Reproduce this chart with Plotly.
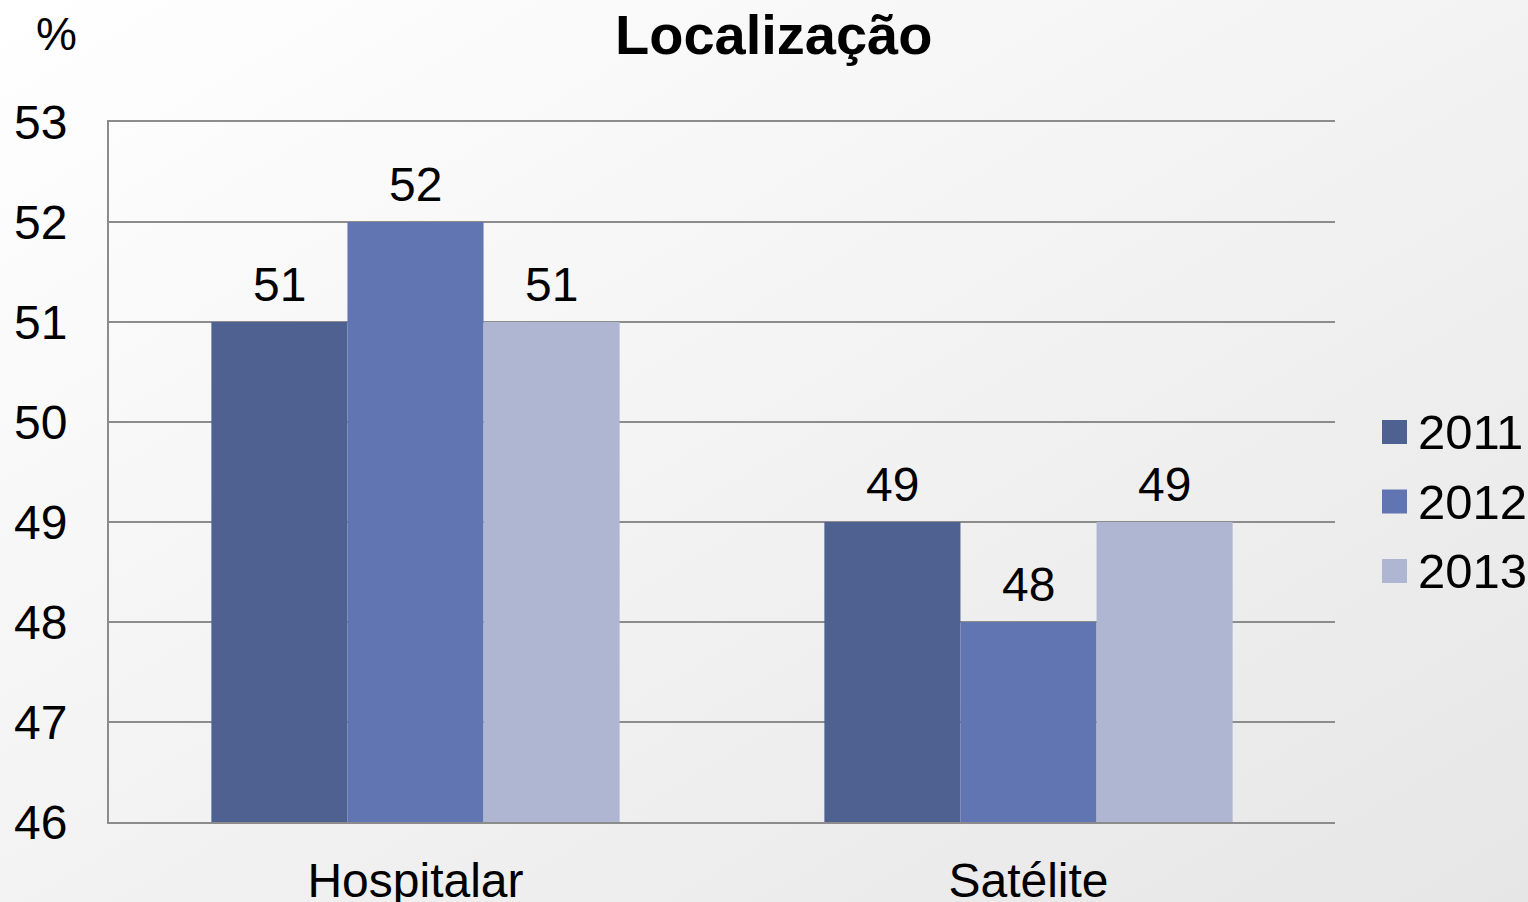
import plotly.graph_objects as go

# data
categories = ["Hospitalar", "Satélite"]
years = ["2011", "2012", "2013"]
values_2011 = [51, 49]
values_2012 = [52, 48]
values_2013 = [51, 49]
colors = ["#4f6191", "#6075b2", "#afb6d2"]
y_ticks = [46, 47, 48, 49, 50, 51, 52, 53]

W, H = 1528, 902
# plot area in pixels
L, R, T, B = 109, 1335, 122, 822
pw, ph = R - L, B - T
bargap = 0.334

series = [values_2011, values_2012, values_2013]

fig = go.Figure()
for name, vals, col in zip(years, series, colors):
    fig.add_trace(go.Bar(
        x=categories, y=vals, name=name,
        marker=dict(color=col, line=dict(width=0)),
        showlegend=False,
    ))

# value labels above each bar
bar_px = pw / len(categories) * (1 - bargap) / len(years)
annots = []
for i, (name, vals) in enumerate(zip(years, series)):
    for cat, v in zip(categories, vals):
        annots.append(dict(x=cat, y=v, xref="x", yref="y", text=str(v),
                           showarrow=False, xanchor="center", yanchor="middle",
                           xshift=(i - 1) * bar_px, yshift=38,
                           font=dict(size=48)))

# page coordinates -> paper coordinates
def px_x(x):
    return (x - L) / pw

def px_y(y):
    return 1 + (T - y) / ph

annots.append(dict(text="<b>Localização</b>", x=px_x(773), y=px_y(35), xref="paper", yref="paper",
                   xanchor="center", yanchor="middle", showarrow=False, font=dict(size=56)))
annots.append(dict(text="%", x=px_x(56), y=px_y(34), xref="paper", yref="paper",
                   xanchor="center", yanchor="middle", showarrow=False, font=dict(size=46)))

# legend drawn by hand so the swatches can be large
shapes = []
for i, (name, col) in enumerate(zip(years, colors)):
    cy = 432 + i * 69.5
    shapes.append(dict(type="rect", xref="paper", yref="paper",
                       x0=px_x(1382), x1=px_x(1407), y0=px_y(cy + 12), y1=px_y(cy - 12),
                       fillcolor=col, line=dict(width=0)))
    annots.append(dict(text=name, x=px_x(1416), y=px_y(cy), xref="paper", yref="paper",
                       xanchor="left", yanchor="middle", showarrow=False, font=dict(size=49)))

# soft gray gradient behind the whole page
grad_svg = ("data:image/svg+xml;utf8,<svg xmlns='http://www.w3.org/2000/svg' width='100' height='100' "
            "preserveAspectRatio='none'><defs><linearGradient id='g' x1='0' y1='0' x2='1' y2='1'>"
            "<stop offset='0' stop-color='%23ffffff'/><stop offset='1' stop-color='%23e6e6e6'/>"
            "</linearGradient></defs><rect width='100' height='100' fill='url(%23g)'/></svg>")
fig.add_layout_image(dict(
    source=grad_svg, xref="paper", yref="paper",
    x=-L / pw, y=1 + T / ph, sizex=W / pw, sizey=H / ph,
    sizing="stretch", xanchor="left", yanchor="top", layer="below",
))

fig.update_layout(
    width=W, height=H,
    margin=dict(l=L, r=W - R, t=T, b=H - B),
    paper_bgcolor="#f4f4f4", plot_bgcolor="white",
    font=dict(family="Liberation Sans, Arial", color="black", size=48),
    barmode="group", bargap=bargap, bargroupgap=0,
    showlegend=False,
    annotations=annots,
    shapes=shapes,
)

fig.update_yaxes(range=[46, 53], tickvals=y_ticks, showgrid=True,
                 gridcolor="#8c8c8c", gridwidth=2, zeroline=False,
                 showline=True, linecolor="#8c8c8c", linewidth=2, automargin=False,
                 ticks="", ticklabelstandoff=30, tickfont=dict(size=48))
fig.update_xaxes(showline=True, mirror=True, linecolor="#8c8c8c", linewidth=2, ticks="",
                 automargin=False, tickfont=dict(size=48), ticklabelstandoff=15)

fig.write_html("out.html", config={"displayModeBar": False},
               post_script="document.body.style.margin='0';")
